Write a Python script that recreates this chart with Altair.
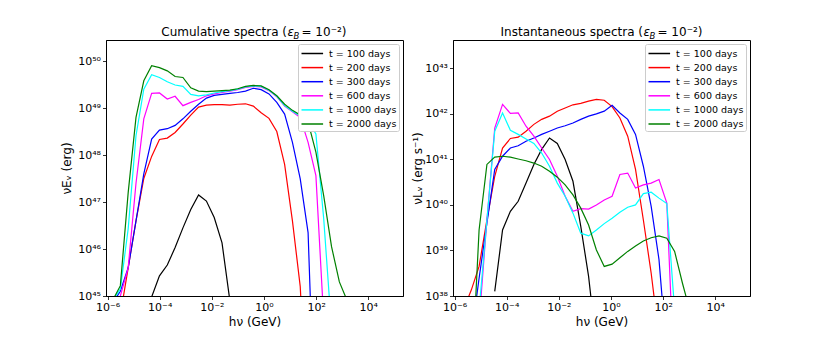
import altair as alt
import pandas as pd

SERIES = ["t = 100 days", "t = 200 days", "t = 300 days", "t = 600 days",
          "t = 1000 days", "t = 2000 days"]
COLORS = ["#000000", "#ff0000", "#0000ff", "#ff00ff", "#00ffff", "#008000"]

# ---- Cumulative spectra: photon energies (GeV) and log10(nu E_nu / erg)
E_cum = [1.55e-6, 3.09e-6, 6.17e-6, 1.23e-5, 2.45e-5, 4.9e-5, 9.77e-5, 1.95e-4,
         3.89e-4, 7.76e-4, 1.55e-3, 3.09e-3, 6.17e-3, 1.23e-2, 2.45e-2, 4.9e-2,
         9.77e-2, 0.195, 0.389, 0.776, 1.55, 3.09, 6.17, 12.3, 24.5, 49.0,
         97.7, 195.0, 389.0, 776.0, 1549.0, 3090.0]
cum_100 = [None, None, None, None, None, 44.98, 45.43, 45.66, 46.03, 46.45, 46.84,
           47.15, 47.02, 46.67, 46.13, 44.9, None, None, None, None, None, None,
           None, None, None, None, None, None, None, None, None, None]
cum_200 = [None, 44.6, 45.6, 46.6, 47.5, 47.97, 48.33, 48.36, 48.48, 48.66, 48.85,
           49.02, 49.06, 49.07, 49.07, 49.06, 49.08, 49.09, 49.04, 48.9, 48.78,
           48.5, 47.8, 46.6, 45.2, 42.0, None, None, None, None, None, None]
cum_300 = [44.85, 45.1, 45.6, 46.6, 47.6, 48.34, 48.53, 48.56, 48.63, 48.77, 48.93,
           49.08, 49.21, 49.27, 49.29, 49.31, 49.33, 49.36, 49.42, 49.39, 49.3,
           49.12, 48.87, 48.27, 47.49, 46.35, 41.5, None, None, None, None, None]
cum_600 = [44.8, 45.0, 45.6, 47.4, 48.77, 49.31, 49.32, 49.19, 49.25, 49.05, 49.12,
           49.18, 49.26, 49.3, 49.33, 49.36, 49.39, 49.44, 49.46, 49.45, 49.37,
           49.24, 49.04, 48.92, 48.8, 48.27, 47.56, 44.5, None, None, None, None]
cum_1000 = [44.9, 45.15, 46.43, 48.41, 49.4, 49.71, 49.65, 49.56, 49.49, 49.46,
            49.29, 49.26, 49.28, 49.32, 49.35, 49.37, 49.4, 49.45, 49.47, 49.46,
            49.38, 49.25, 49.05, 48.93, 48.83, 48.72, 48.45, 46.64, 44.3, None,
            None, None]
cum_2000 = [44.9, 45.22, 47.2, 48.8, 49.58, 49.9, 49.86, 49.79, 49.67, 49.65, 49.43,
            49.36, 49.35, 49.36, 49.37, 49.38, 49.41, 49.46, 49.48, 49.47, 49.39,
            49.26, 49.08, 48.95, 48.85, 48.7, 48.06, 47.13, 46.05, 45.3, 44.9, None]

# ---- Instantaneous spectra: photon energies (GeV) and log10(nu L_nu / erg s^-1)
E_inst = [2.19e-6, 4.37e-6, 8.71e-6, 1.74e-5, 3.47e-5, 6.92e-5, 1.38e-4, 2.75e-4,
          5.5e-4, 1.1e-3, 2.19e-3, 4.37e-3, 8.71e-3, 1.74e-2, 3.47e-2, 6.92e-2,
          0.138, 0.275, 0.55, 1.1, 2.19, 4.37, 8.71, 17.4, 34.7, 69.2, 138.0,
          275.0, 550.0, 1100.0]
inst_100 = [None, None, None, None, 38.1, 39.45, 39.86, 40.08, 40.48, 40.89, 41.22,
            41.47, 41.35, 41.0, 40.52, 39.53, 38.43, 36.9, None, None, None, None,
            None, None, None, None, None, None, None, None]
inst_200 = [37.7, 38.13, 38.65, 39.67, 40.63, 41.25, 41.46, 41.49, 41.62, 41.77,
            41.88, 41.95, 42.06, 42.13, 42.2, 42.23, 42.28, 42.32, 42.3, 42.16,
            41.91, 41.51, 40.78, 39.67, 38.5, 37.1, None, None, None, None]
inst_300 = [None, 37.1, 38.39, 39.6, 40.78, 41.07, 41.25, 41.3, 41.4, 41.47, 41.55,
            41.62, 41.69, 41.74, 41.8, 41.88, 41.95, 42.0, 42.06, 42.19, 42.02,
            41.88, 41.55, 40.85, 39.97, 38.8, 36.7, None, None, None]
inst_600 = [None, None, 37.42, 39.67, 41.69, 42.21, 42.01, 42.02, 41.73, 41.51,
            41.25, 41.0, 40.63, 40.19, 39.86, 39.92, 39.91, 40.0, 40.11, 40.19,
            40.67, 40.7, 40.37, 40.44, 40.48, 40.56, 40.04, 36.0, None, None]
inst_1000 = [None, None, 37.69, 39.67, 41.62, 42.02, 41.64, 41.55, 41.45, 41.35,
             41.14, 40.85, 40.48, 40.19, 39.82, 39.38, 39.32, 39.45, 39.59, 39.71,
             39.84, 39.95, 40.0, 40.25, 40.28, 40.15, 40.03, 37.69, None, None]
inst_2000 = [None, 36.0, 39.45, 40.89, 41.05, 41.07, 41.05, 41.01, 40.97, 40.92,
             40.85, 40.74, 40.61, 40.44, 40.22, 39.93, 39.56, 39.01, 38.65, 38.7,
             38.84, 38.98, 39.1, 39.21, 39.28, 39.32, 39.27, 38.98, 38.28, 37.64]

X_TICKS = [1e-6, 1e-4, 1e-2, 1e0, 1e2, 1e4]
X_DOMAIN = [8.7e-7, 2.14e5]
CUM_Y_TICKS = [1e45, 1e46, 1e47, 1e48, 1e49, 1e50]
CUM_Y_DOMAIN = [1e45, 2.8e50]
INST_Y_TICKS = [1e38, 1e39, 1e40, 1e41, 1e42, 1e43]
INST_Y_DOMAIN = [1e38, 4.2e43]

FONT = "DejaVu Sans"
W, H = 297, 256

SUP = {"-": "\u207b", "0": "\u2070", "1": "\u00b9", "2": "\u00b2", "3": "\u00b3",
       "4": "\u2074", "5": "\u2075", "6": "\u2076", "7": "\u2077", "8": "\u2078",
       "9": "\u2079"}


def pow_label(e):
    return "10" + "".join(SUP[c] for c in str(e))


def label_expr(ticks):
    import math
    parts = []
    for t in ticks:
        e = int(round(math.log10(t)))
        parts.append(f"round(log(datum.value)/LN10) == {e} ? '{pow_label(e)}' : ")
    return "".join(parts) + "''"


def make_df(E, series_lists):
    rows = []
    for name, vals in zip(SERIES, series_lists):
        for e, v in zip(E, vals):
            if v is not None:
                rows.append({"E": e, "val": 10.0 ** v, "series": name})
    return pd.DataFrame(rows)


def title_layers(prefix, anchor):
    base = dict(font=FONT, fontSize=12, baseline="alphabetic", color="black")
    parts = [
        (prefix, dict(align="right"), anchor, -4),
        ("\u03b5", dict(align="left", fontStyle="italic"), anchor + 0.5, -4),
        ("B", dict(align="left", fontStyle="italic", fontSize=8.5), anchor + 6.5, -1.5),
        ("= 10\u207b\u00b2)", dict(align="left"), anchor + 14.5, -4),
    ]
    layers = []
    for txt, extra, x, y in parts:
        kw = dict(base)
        kw.update(extra)
        layers.append(
            alt.Chart(pd.DataFrame({"t": [txt]}))
            .mark_text(**kw)
            .encode(text="t:N", x=alt.value(x), y=alt.value(y))
        )
    return layers


def panel(E, series_lists, ydomain, yticks, ytitle, title_pad, prefix, anchor):
    df = make_df(E, series_lists)
    lines = alt.Chart(df).mark_line(strokeWidth=1.2, clip=True).encode(
        x=alt.X("E:Q",
                scale=alt.Scale(type="log", domain=X_DOMAIN, nice=False),
                axis=alt.Axis(values=X_TICKS, labelExpr=label_expr(X_TICKS),
                              title="h\u03bd (GeV)")),
        y=alt.Y("val:Q",
                scale=alt.Scale(type="log", domain=ydomain, nice=False),
                axis=alt.Axis(values=yticks, labelExpr=label_expr(yticks),
                              title=ytitle, titlePadding=title_pad)),
        color=alt.Color("series:N",
                        scale=alt.Scale(domain=SERIES, range=COLORS),
                        legend=alt.Legend(
                            title=None, orient="top-right", offset=4,
                            symbolType="M-1,0H2.6", symbolSize=144,
                            symbolStrokeWidth=1.5, symbolFillColor="transparent",
                            labelFontSize=9.5,
                            labelFont=FONT, labelColor="black",
                            fillColor="white", strokeColor="#cccccc",
                            cornerRadius=2, padding=2.5, rowPadding=2.1,
                            labelOffset=14.6)),
    )
    return alt.layer(lines, *title_layers(prefix, anchor)).properties(width=W, height=H)


left = panel(E_cum, [cum_100, cum_200, cum_300, cum_600, cum_1000, cum_2000],
             CUM_Y_DOMAIN, CUM_Y_TICKS, "\u03bdE\u1d65 (erg)", 4,
             "Cumulative spectra (", 181)
right = panel(E_inst, [inst_100, inst_200, inst_300, inst_600, inst_1000, inst_2000],
              INST_Y_DOMAIN, INST_Y_TICKS, "\u03bdL\u1d65 (erg s\u207b\u00b9)", 0,
              "Instantaneous spectra (", 190)

chart = (
    alt.hconcat(left, right, spacing=50, bounds="flush")
    .resolve_scale(color="independent")
    .resolve_legend(color="independent")
    .properties(padding={"left": 52, "top": 17, "right": 5, "bottom": 5})
    .configure(font=FONT)
    .configure_view(stroke="black", strokeWidth=1)
    .configure_axis(grid=False, domainColor="black", tickColor="black",
                    labelColor="black", titleColor="black", labelFont=FONT,
                    titleFont=FONT, labelFontSize=11, titleFontSize=12,
                    titleFontWeight="normal", tickSize=3.5, tickWidth=0.8,
                    domainWidth=1, labelPadding=2)
)

chart.save("out.html", embed_options={"renderer": "svg", "actions": False})
